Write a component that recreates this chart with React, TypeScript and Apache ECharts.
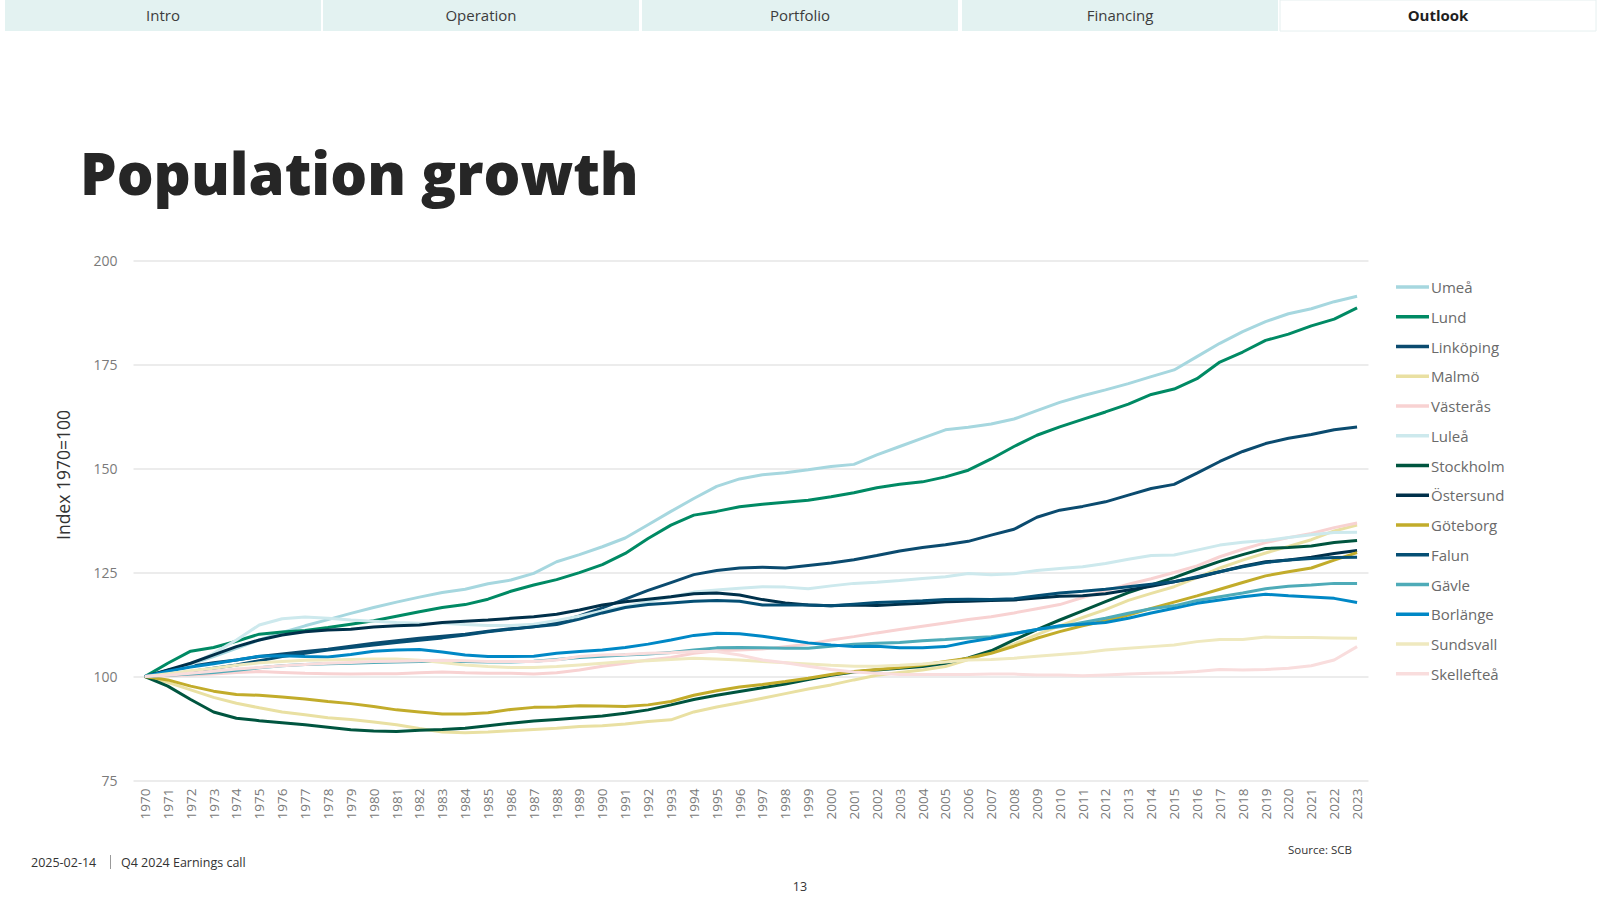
import React, { useEffect, useRef } from "react";
import * as echarts from "echarts";

const years = [
  "1970", "1971", "1972", "1973", "1974", "1975", "1976", "1977", "1978", "1979",
  "1980", "1981", "1982", "1983", "1984", "1985", "1986", "1987", "1988", "1989",
  "1990", "1991", "1992", "1993", "1994", "1995", "1996", "1997", "1998", "1999",
  "2000", "2001", "2002", "2003", "2004", "2005", "2006", "2007", "2008", "2009",
  "2010", "2011", "2012", "2013", "2014", "2015", "2016", "2017", "2018", "2019",
  "2020", "2021", "2022", "2023",
];

const umea = [
  100, 101.5, 103.0, 104.8, 106.8, 108.8, 110.6, 112.2, 113.7, 115.2,
  116.6, 117.9, 119.1, 120.2, 121.0, 122.3, 123.2, 124.8, 127.6, 129.3,
  131.2, 133.3, 136.5, 139.7, 142.8, 145.7, 147.5, 148.5, 149.0, 149.7,
  150.5, 151.0, 153.3, 155.3, 157.3, 159.3, 159.9, 160.7, 161.9, 163.9,
  165.9, 167.5, 168.9, 170.4, 172.1, 173.7, 176.9, 180.1, 182.9, 185.3,
  187.2, 188.4, 190.1, 191.4,
];
const lund = [
  100, 103.2, 106.1, 107.0, 108.5, 110.2, 110.7, 111.1, 111.8, 112.6,
  113.4, 114.5, 115.6, 116.6, 117.3, 118.6, 120.5, 122.0, 123.3, 125.0,
  126.9, 129.6, 133.2, 136.4, 138.8, 139.7, 140.8, 141.4, 141.9, 142.4,
  143.2, 144.2, 145.4, 146.2, 146.8, 148.0, 149.6, 152.3, 155.3, 158.0,
  160.0, 161.8, 163.6, 165.5, 167.8, 169.1, 171.6, 175.6, 178.0, 180.8,
  182.3, 184.3, 185.9, 188.6,
];
const linkoping = [
  100, 101.5, 102.5, 103.3, 104.0, 104.8, 105.4, 106.0, 106.6, 107.3,
  108.0, 108.6, 109.2, 109.7, 110.2, 110.9, 111.5, 112.0, 113.0, 114.6,
  116.5, 118.6, 120.7, 122.6, 124.5, 125.5, 126.1, 126.3, 126.1, 126.7,
  127.3, 128.1, 129.1, 130.2, 131.0, 131.7, 132.5, 134.0, 135.4, 138.3,
  140.0, 140.9, 142.0, 143.6, 145.2, 146.2, 148.9, 151.7, 154.1, 156.0,
  157.3, 158.2, 159.3, 160.0,
];
const malmo = [
  100, 98.6, 96.8, 95.0, 93.6, 92.5, 91.5, 90.8, 90.1, 89.7,
  89.1, 88.4, 87.5, 86.7, 86.5, 86.7, 87.0, 87.3, 87.6, 88.0,
  88.2, 88.6, 89.2, 89.6, 91.5, 92.7, 93.7, 94.8, 95.9, 97.0,
  98.0, 99.2, 100.3, 101.0, 101.6, 102.4, 104.1, 105.9, 107.8, 110.1,
  112.2, 114.2, 116.1, 118.3, 120.0, 121.6, 123.8, 126.1, 128.0, 129.7,
  131.3, 132.9, 135.0, 136.4,
];
const vasteras = [
  100, 100.2, 100.4, 100.6, 101.0, 101.2, 101.0, 100.8, 100.7, 100.6,
  100.7, 100.7, 100.9, 101.1, 100.9, 100.8, 100.8, 100.6, 100.9, 101.6,
  102.5, 103.2, 104.0, 104.6, 105.6, 106.2, 106.4, 106.6, 107.2, 107.8,
  108.8, 109.6, 110.5, 111.3, 112.1, 112.9, 113.7, 114.4, 115.3, 116.3,
  117.3, 119.0, 120.6, 122.2, 123.5, 125.0, 126.6, 128.8, 130.6, 132.2,
  133.4, 134.4, 135.8, 136.9,
];
const lulea = [
  100, 101.2, 102.8, 105.6, 108.8, 112.4, 113.9, 114.3, 114.0, 113.6,
  113.3, 113.0, 112.8, 112.8, 112.5, 112.3, 112.3, 112.6, 113.5, 114.5,
  115.8, 116.8, 118.0, 119.2, 120.3, 120.8, 121.2, 121.6, 121.5, 121.1,
  121.8, 122.4, 122.7, 123.1, 123.6, 124.0, 124.8, 124.5, 124.7, 125.5,
  126.0, 126.4, 127.2, 128.2, 129.1, 129.2, 130.4, 131.6, 132.3, 132.7,
  133.4, 134.1, 134.6, 134.7,
];
const stockholm = [
  100, 97.7, 94.5, 91.5, 90.0, 89.4, 88.9, 88.4, 87.8, 87.2,
  86.9, 86.8, 87.1, 87.3, 87.6, 88.2, 88.8, 89.3, 89.7, 90.1,
  90.5, 91.2, 92.0, 93.2, 94.5, 95.5, 96.4, 97.3, 98.2, 99.3,
  100.3, 101.1, 101.6, 102.0, 102.4, 103.2, 104.5, 106.2, 108.8, 111.3,
  113.6, 115.8, 118.0, 120.2, 122.0, 123.8, 125.8, 127.7, 129.3, 130.8,
  131.0, 131.4, 132.2, 132.7,
];
const ostersund = [
  100, 101.6, 103.2, 105.2, 107.2, 108.8, 110.0, 110.8, 111.2, 111.4,
  111.9, 112.2, 112.4, 113.0, 113.3, 113.6, 114.0, 114.4, 115.0, 116.0,
  117.2, 118.0, 118.6, 119.2, 119.9, 120.1, 119.6, 118.5, 117.7, 117.2,
  117.0, 117.2, 117.1, 117.4, 117.6, 118.0, 118.1, 118.3, 118.4, 118.9,
  119.3, 119.4, 119.9, 120.8, 121.7, 122.8, 123.8, 125.2, 126.5, 127.6,
  128.0, 128.7, 129.6, 130.3,
];
const goteborg = [
  100, 99.2, 97.7, 96.5, 95.7, 95.5, 95.1, 94.6, 94.0, 93.5,
  92.8, 92.0, 91.5, 91.0, 91.0, 91.3, 92.1, 92.6, 92.7, 93.0,
  92.9, 92.8, 93.2, 94.0, 95.5, 96.6, 97.5, 98.1, 98.8, 99.6,
  100.5, 101.2, 101.7, 102.2, 102.8, 103.6, 104.4, 105.6, 107.3, 109.2,
  110.8, 112.2, 113.4, 114.8, 116.4, 117.9, 119.4, 121.0, 122.6, 124.2,
  125.2, 126.1, 128.0, 129.8,
];
const falun = [
  100, 100.5, 101.2, 102.0, 102.8, 103.8, 104.8, 105.6, 106.4, 107.0,
  107.6, 108.2, 108.7, 109.3, 110.0, 110.8, 111.4, 112.0, 112.5, 113.8,
  115.3, 116.6, 117.3, 117.7, 118.1, 118.3, 118.1, 117.2, 117.2, 117.2,
  117.0, 117.4, 117.8, 118.0, 118.2, 118.5, 118.6, 118.5, 118.7, 119.4,
  120.1, 120.5, 121.0, 121.6, 122.2, 122.8, 124.0, 125.2, 126.4, 127.4,
  128.0, 128.4, 128.6, 128.7,
];
const gavle = [
  100, 100.3, 100.6, 101.0, 101.5, 102.1, 102.6, 102.9, 103.1, 103.2,
  103.4, 103.5, 103.6, 103.7, 103.6, 103.5, 103.5, 103.7, 104.1, 104.6,
  104.9, 105.2, 105.4, 105.8, 106.4, 106.9, 107.0, 106.9, 106.8, 106.8,
  107.3, 107.8, 108.0, 108.2, 108.6, 108.9, 109.3, 109.6, 110.4, 111.3,
  112.0, 113.0, 114.0, 115.2, 116.3, 117.0, 118.3, 119.2, 120.1, 121.1,
  121.7, 122.0, 122.4, 122.4,
];
const borlange = [
  100, 101.3, 102.3, 103.1, 104.0, 104.9, 105.0, 104.8, 104.7, 105.3,
  106.1, 106.4, 106.5, 105.9, 105.2, 104.8, 104.8, 104.9, 105.6, 106.0,
  106.4, 107.0, 107.8, 108.8, 109.9, 110.4, 110.3, 109.7, 108.9, 108.1,
  107.6, 107.2, 107.3, 106.9, 106.9, 107.2, 108.3, 109.2, 110.3, 111.3,
  112.2, 112.6, 113.0, 114.0, 115.3, 116.4, 117.6, 118.4, 119.2, 119.8,
  119.4, 119.1, 118.8, 117.8,
];
const sundsvall = [
  100, 100.7, 101.4, 102.0, 102.7, 103.3, 103.6, 103.9, 104.0, 104.1,
  104.2, 104.2, 103.9, 103.4, 102.8, 102.4, 102.2, 102.2, 102.4, 102.8,
  103.2, 103.6, 103.8, 104.1, 104.4, 104.2, 104.0, 103.6, 103.3, 103.0,
  102.7, 102.5, 102.5, 102.7, 103.0, 103.5, 104.0, 104.1, 104.4, 104.9,
  105.3, 105.7, 106.4, 106.8, 107.2, 107.6, 108.4, 108.9, 108.9, 109.5,
  109.4, 109.4, 109.3, 109.2,
];
const skelleftea = [
  100, 100.3, 100.8, 101.3, 101.8, 102.2, 102.6, 102.9, 103.2, 103.4,
  103.6, 103.7, 103.8, 103.9, 103.8, 103.6, 103.6, 103.6, 104.0, 104.8,
  105.2, 105.3, 105.6, 105.7, 106.0, 106.0, 105.2, 104.0, 103.3, 102.5,
  101.7, 101.1, 100.8, 100.5, 100.5, 100.5, 100.5, 100.6, 100.6, 100.4,
  100.4, 100.2, 100.4, 100.6, 100.8, 100.9, 101.2, 101.7, 101.6, 101.7,
  102.0, 102.6, 104.0, 107.2,
];

const seriesNames = [
  "Umeå", "Lund", "Linköping", "Malmö", "Västerås", "Luleå", "Stockholm",
  "Östersund", "Göteborg", "Falun", "Gävle", "Borlänge", "Sundsvall", "Skellefteå",
];
const seriesValues = [
  umea, lund, linkoping, malmo, vasteras, lulea, stockholm,
  ostersund, goteborg, falun, gavle, borlange, sundsvall, skelleftea,
];
const seriesColors = [
  "#a6d7df", "#008a64", "#0b4b6f", "#e9e0a2", "#f8d2d2", "#cde9ed", "#00553f",
  "#00304a", "#c2ac2b", "#054f74", "#4eabb8", "#0088c6", "#efe9bf", "#f9dddd",
];

const yMin = 75;
const yMax = 200;
const yStep = 25;

const tabLabels = ["Intro", "Operation", "Portfolio", "Financing", "Outlook"];
const activeTab = "Outlook";

const titleText = "Population growth";
const yAxisTitle = "Index 1970=100";
const footerDate = "2025-02-14";
const footerEvent = "Q4 2024 Earnings call";
const sourceText = "Source: SCB";
const pageNumber = "13";

const FONT = "'Open Sans', 'Noto Sans', sans-serif";

export default function App() {
  const ref = useRef<HTMLDivElement>(null);

  useEffect(() => {
    if (!ref.current) return;
    const chart = echarts.init(ref.current, undefined, { renderer: "svg" });

    const tabX = [5, 323, 642, 962, 1280];
    const tabW = 316;
    const tabGraphics: any[] = [];
    tabLabels.forEach((t, i) => {
      const active = t === activeTab;
      tabGraphics.push({
        type: "rect",
        shape: { x: tabX[i], y: 0, width: tabW, height: 31 },
        style: {
          fill: active ? "#ffffff" : "#e3f2f1",
          stroke: active ? "#e6f0f0" : null,
          lineWidth: 1,
        },
        silent: true,
      });
      tabGraphics.push({
        type: "text",
        x: tabX[i] + tabW / 2,
        y: 15,
        style: {
          text: t,
          fill: active ? "#1f1f1f" : "#3c3c3c",
          font: `${active ? "bold " : ""}15px ${FONT}`,
          textAlign: "center",
          textVerticalAlign: "middle",
        },
        silent: true,
      });
    });

    const option: any = {
      animation: false,
      textStyle: { fontFamily: FONT },
      grid: { left: 133.5, right: 231.5, top: 260.5, bottom: 119.4, containLabel: false },
      xAxis: {
        type: "category",
        data: years,
        boundaryGap: true,
        axisLine: { show: false },
        axisTick: { show: false },
        splitLine: { show: false },
        axisLabel: {
          rotate: 90,
          interval: 0,
          color: "#7a7a7a",
          fontSize: 13.5,
          fontFamily: FONT,
          margin: 8,
        },
      },
      yAxis: {
        type: "value",
        min: yMin,
        max: yMax,
        interval: yStep,
        axisLine: { show: false },
        axisTick: { show: false },
        axisLabel: { color: "#7a7a7a", fontSize: 14, fontFamily: FONT, margin: 16 },
        splitLine: { lineStyle: { color: "#e6e6e6", width: 1.5 } },
      },
      legend: {
        orient: "vertical",
        left: 1396,
        top: 278,
        padding: 0,
        icon: "rect",
        itemWidth: 33,
        itemHeight: 3.5,
        itemGap: 11.75,
        data: seriesNames,
        textStyle: {
          color: "#6a6a6a",
          fontSize: 15,
          fontFamily: FONT,
          lineHeight: 18,
          padding: [0, 0, 0, -3],
        },
      },
      series: seriesNames.map((name, i) => ({
        name,
        type: "line",
        data: seriesValues[i],
        symbol: "none",
        showSymbol: false,
        lineStyle: { width: 3, color: seriesColors[i] },
        itemStyle: { color: seriesColors[i] },
        emphasis: { disabled: true },
      })),
      graphic: [
        ...tabGraphics,
        {
          type: "text",
          x: 80,
          y: 172,
          style: {
            text: titleText,
            fill: "#262626",
            font: `800 58px 'Open Sans', sans-serif`,
            textAlign: "left",
            textVerticalAlign: "middle",
          },
          silent: true,
        },
        {
          type: "text",
          x: 63,
          y: 475,
          rotation: Math.PI / 2,
          style: {
            text: yAxisTitle,
            fill: "#333333",
            font: `17.5px ${FONT}`,
            textAlign: "center",
            textVerticalAlign: "middle",
          },
          silent: true,
        },
        {
          type: "text",
          x: 31,
          y: 862,
          style: {
            text: footerDate,
            fill: "#333333",
            font: `12.5px ${FONT}`,
            textAlign: "left",
            textVerticalAlign: "middle",
          },
          silent: true,
        },
        {
          type: "line",
          shape: { x1: 110.5, y1: 855, x2: 110.5, y2: 869 },
          style: { stroke: "#9a9a9a", lineWidth: 1 },
          silent: true,
        },
        {
          type: "text",
          x: 121,
          y: 862,
          style: {
            text: footerEvent,
            fill: "#333333",
            font: `12.5px ${FONT}`,
            textAlign: "left",
            textVerticalAlign: "middle",
          },
          silent: true,
        },
        {
          type: "text",
          x: 1352,
          y: 849,
          style: {
            text: sourceText,
            fill: "#333333",
            font: `11.5px ${FONT}`,
            textAlign: "right",
            textVerticalAlign: "middle",
          },
          silent: true,
        },
        {
          type: "text",
          x: 800,
          y: 886,
          style: {
            text: pageNumber,
            fill: "#333333",
            font: `12.5px ${FONT}`,
            textAlign: "center",
            textVerticalAlign: "middle",
          },
          silent: true,
        },
      ],
    };

    chart.setOption(option);
    return () => {
      chart.dispose();
    };
  }, []);

  return (
    <div
      ref={ref}
      style={{
        position: "absolute",
        left: 0,
        top: 0,
        width: 1600,
        height: 900,
        background: "#ffffff",
      }}
    />
  );
}
